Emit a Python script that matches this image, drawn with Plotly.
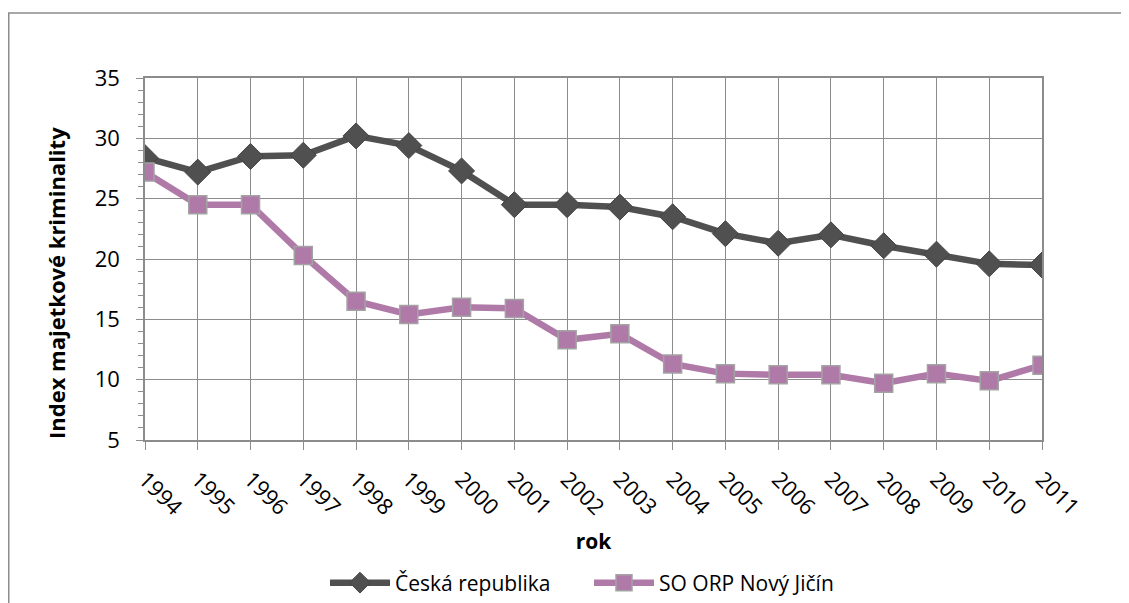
import plotly.graph_objects as go

years = [1994, 1995, 1996, 1997, 1998, 1999, 2000, 2001, 2002, 2003,
         2004, 2005, 2006, 2007, 2008, 2009, 2010, 2011]
ceska_republika = [28.4, 27.2, 28.5, 28.6, 30.2, 29.4, 27.3, 24.5, 24.5, 24.3,
                   23.5, 22.1, 21.3, 22.0, 21.1, 20.4, 19.6, 19.5]
so_orp_novy_jicin = [27.2, 24.5, 24.5, 20.3, 16.5, 15.4, 16.0, 15.9, 13.3, 13.8,
                     11.3, 10.5, 10.4, 10.4, 9.7, 10.5, 9.9, 11.2]
series_names = ["Česká republika", "SO ORP Nový Jičín"]
y_title = "Index majetkové kriminality"
x_title = "rok"

FONT = "Open Sans"
FS = 21
OFF = 8  # page body margin
W, H = 1129 - OFF, 603 - OFF
L, T = 145 - OFF, 78 - OFF
R = W - (1042 - OFF)
B = H - (440 - OFF)
pw, ph = W - L - R, H - T - B


def py(screen_y):
    return (H - B - (screen_y - OFF)) / ph


def px(screen_x):
    return (screen_x - OFF - L) / pw


fig = go.Figure()
fig.add_trace(go.Scatter(
    x=years, y=ceska_republika, name=series_names[0], mode="lines+markers",
    line=dict(color="#505050", width=6.5),
    marker=dict(symbol="diamond", size=20, color="#505050",
                line=dict(color="#444444", width=1)),
))
fig.add_trace(go.Scatter(
    x=years, y=so_orp_novy_jicin, name=series_names[1], mode="lines+markers",
    line=dict(color="#b07aa8", width=6.5),
    marker=dict(symbol="square", size=18, color="#b07aa8",
                line=dict(color="#a3a3a3", width=1.5)),
))

# outer chart border (extends past right and bottom of picture)
fig.add_shape(type="rect", xref="paper", yref="paper",
              x0=px(OFF + 0.75), x1=px(1140),
              y0=py(620), y1=py(13),
              line=dict(color="#8c8c8c", width=1.5), fillcolor="rgba(0,0,0,0)",
              layer="below")

# y axis title placed like the original (slightly below plot centre)
fig.add_annotation(text="<b>" + y_title + "</b>", xref="paper", yref="paper",
                   x=px(56), y=py(283), xanchor="center", yanchor="middle",
                   textangle=-90, showarrow=False,
                   font=dict(family=FONT, size=22, color="#000000"))

fig.update_layout(
    width=W, height=H,
    margin=dict(l=L, r=R, t=T, b=B, autoexpand=False),
    paper_bgcolor="white", plot_bgcolor="white",
    font=dict(family=FONT, size=FS, color="#000000"),
    showlegend=True,
    legend=dict(orientation="h", x=px(325), xanchor="left", y=py(583),
                yanchor="middle", font=dict(family=FONT, size=FS),
                itemwidth=60, entrywidth=189, entrywidthmode="pixels",
                tracegroupgap=0, bgcolor="rgba(0,0,0,0)"),
    xaxis=dict(
        range=[1994, 2011], tickmode="array", tickvals=years,
        ticktext=[str(y) for y in years], tickangle=45,
        showgrid=True, gridcolor="#8c8c8c", gridwidth=1,
        showline=True, linecolor="#8c8c8c", linewidth=1.5, mirror=True,
        ticks="outside", ticklen=8, tickcolor="#8c8c8c",
        zeroline=False, ticklabelstandoff=8,
        title=dict(text="<b>" + x_title + "</b>", font=dict(family=FONT, size=FS),
                   standoff=14),
        tickfont=dict(family=FONT, size=22),
    ),
    yaxis=dict(
        range=[5, 35], tickmode="linear", tick0=5, dtick=5,
        showgrid=True, gridcolor="#8c8c8c", gridwidth=1,
        showline=True, linecolor="#8c8c8c", linewidth=1.5, mirror=True,
        ticks="outside", ticklen=7, tickcolor="#8c8c8c",
        minor=dict(dtick=1, ticks="outside", ticklen=5, tickcolor="#8c8c8c",
                   showgrid=False),
        zeroline=False,
        ticklabelstandoff=12,
        tickfont=dict(family=FONT, size=22),
    ),
)

fig.write_html("out.html")
